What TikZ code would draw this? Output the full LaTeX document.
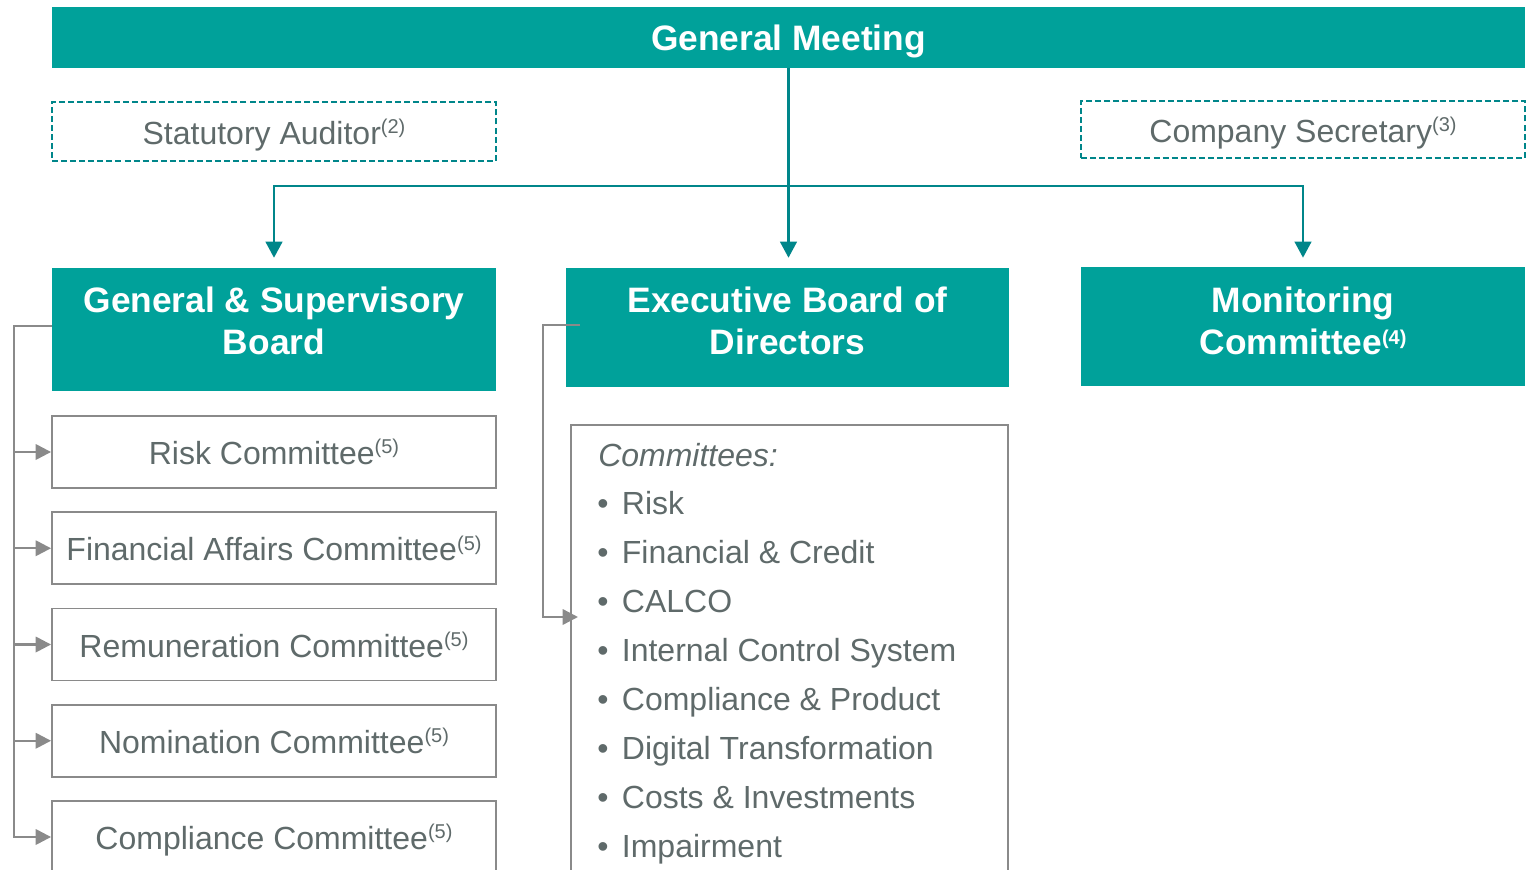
\documentclass[tikz,border=0pt]{standalone}
\usepackage{fontspec}
\setmainfont{Liberation Sans}
\usepackage{xcolor}
\definecolor{govteal}{HTML}{00A19A}
\definecolor{govline}{HTML}{00868A}
\definecolor{govgray}{HTML}{5F6A6A}
\definecolor{govframe}{HTML}{8A8A8A}
\usepackage{tikz}
\usetikzlibrary{arrows.meta, positioning, calc}
\newcommand{\fnref}[1]{\raisebox{8pt}{\fontsize{15}{15}\selectfont(#1)}}

\begin{document}
\begin{tikzpicture}[x=0.75pt, y=-0.75pt,
  size/.style 2 args={minimum width=#1*0.75pt, minimum height=#2*0.75pt},
  headbox/.style={fill=govteal, inner sep=0pt},
  headtext/.style={text=white, inner sep=0pt, align=center,
    font=\fontsize{26.5}{32}\selectfont\bfseries},
  dashbox/.style={draw=govline, line width=1.5pt, dash pattern=on 4.5pt off 2.3pt,
    inner sep=0pt, text depth=0pt, text=govgray, font=\fontsize{24}{28}\selectfont},
  combox/.style={draw=govframe, line width=1.4pt, inner sep=0pt, text depth=0pt,
    text=govgray, font=\fontsize{24}{28}\selectfont},
  listtext/.style={inner sep=0pt, text=govgray, font=\fontsize{24}{28}\selectfont},
  govlink/.style={govline, line width=1.6pt, -{Triangle[length=12pt, width=12.5pt]}},
  feed/.style={govframe, line width=1.8pt, -{Triangle[length=11.5pt, width=11.5pt]}}]
  \useasboundingbox (0,0) rectangle (1529,870);
  \clip (0,0) rectangle (1529,870);
  % general meeting
  \node[headbox, headtext, text depth=0pt, size={1473}{61}] (gm) at (788.5,37.5) {General Meeting};
  % auditor and secretary
  \node[dashbox, size={444}{59}] (auditor) at (274,131.5) {Statutory Auditor\fnref{2}};
  \node[dashbox, size={444}{57}] (secretary) at (1303,129.5) {Company Secretary\fnref{3}};
  % boards
  \node[headbox, size={444}{123}] (gsb) at (274,329.5) {};
  \node[headbox, size={443}{119}] (exec) at (787.5,327.5) {};
  \node[headbox, size={444}{119}] (monit) at (1303,326.5) {};
  \node[headtext] (gsbtext) at (gsb |- 0,321) {General \& Supervisory\\Board};
  \node[headtext] (exectext) at (exec |- 0,321) {Executive Board of\\Directors};
  \node[headtext] (monittext) at (monit |- 0,321) {Monitoring\\Committee\fnref{4}};
  % supervisory committees
  \foreach \name [count=\i] in {Risk Committee, Financial Affairs Committee,
      Remuneration Committee, Nomination Committee, Compliance Committee}
    \node[combox, size={444}{72}] (com\i) at (274,{452+96.25*(\i-1)}) {\name\fnref{5}};
  % executive committees
  \node[combox, size={437}{520}, anchor=north west] (cbox) at (570,424) {};
  \node[listtext, anchor=base west] (ctitle) at (598,466.5) {\itshape Committees:};
  \foreach \name [count=\i] in {Risk, Financial \& Credit, CALCO, Internal Control System,
      Compliance \& Product, Digital Transformation, Costs \& Investments, Impairment}
    \node[listtext, anchor=base west] (item\i) at (597,{514.5+49*(\i-1)})
      {\makebox[18.5pt][l]{\textbullet}\name};
  % teal connectors
  \coordinate (fork) at (gm.south |- 0,186);
  \draw[govlink, shorten >=7.5pt] (gm.south) -- (gm.south |- exec.north);
  \draw[govlink, shorten >=7.5pt] (fork) -| (gsb.north);
  \draw[govlink, shorten >=6.8pt] (fork) -| (monit.north);
  % gray connectors
  \coordinate (lbus) at (14,0);
  \foreach \i in {1,...,5}
    \draw[feed] ([yshift=2.5pt]gsb.west) -| (lbus |- com\i.west) -- (com\i.west);
  \coordinate (ebus) at (543,0);
  \coordinate (ein) at (578,617);
  \draw[feed] ([xshift=10.5pt, yshift=2pt]exec.west) -| (ebus |- ein) -- (ein);
\end{tikzpicture}
\end{document}
